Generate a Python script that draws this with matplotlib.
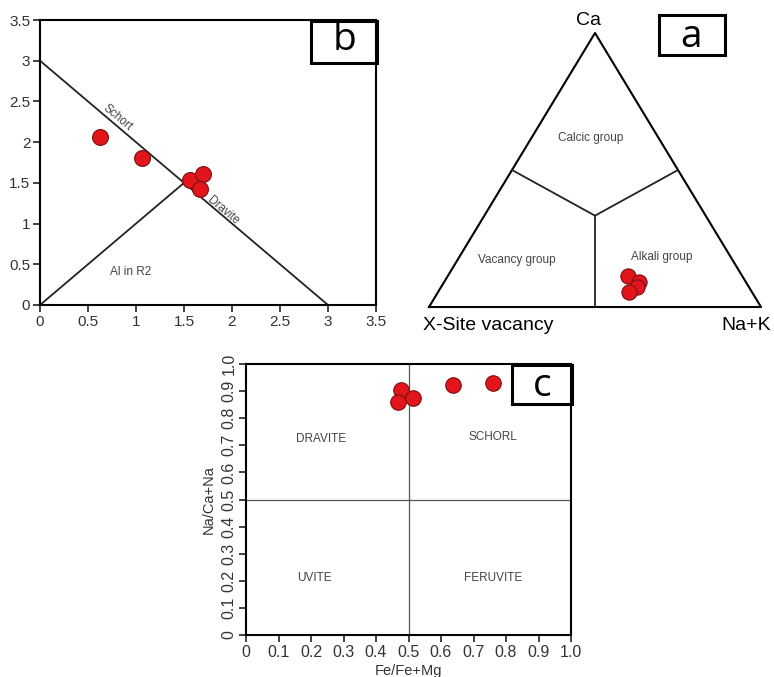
import numpy as np
import matplotlib
matplotlib.use('Agg')
import matplotlib.pyplot as plt
from matplotlib.patches import Rectangle

plt.rcParams['font.family'] = ['Liberation Sans', 'DejaVu Sans']

# panel b : Al vs (Fe,Mg) line
b_x = [0.63, 1.06, 1.56, 1.70, 1.67]
b_y = [2.06, 1.81, 1.54, 1.61, 1.43]
b_ticks = [0, 0.5, 1, 1.5, 2, 2.5, 3, 3.5]
b_ticklabels = ['0', '0.5', '1', '1.5', '2', '2.5', '3', '3.5']

# panel a : ternary X-site (Ca, vacancy, Na+K)
a_ca = [0.113, 0.092, 0.074, 0.054]
a_nak = [0.543, 0.586, 0.590, 0.576]

# panel c : Na/(Ca+Na) vs Fe/(Fe+Mg)
c_x = [0.477, 0.467, 0.513, 0.637, 0.759]
c_y = [0.904, 0.859, 0.876, 0.921, 0.931]
c_ticks = [0, 0.1, 0.2, 0.3, 0.4, 0.5, 0.6, 0.7, 0.8, 0.9, 1.0]
c_ticklabels = ['0', '0.1', '0.2', '0.3', '0.4', '0.5', '0.6', '0.7', '0.8', '0.9', '1.0']

W, H = 774, 677
RED = '#e3151c'
EDGE = '#7a1010'
TXT = '#444444'


def px(x0, y0, x1, y1):
    # pixel box -> figure rect
    return [x0 / W, 1 - y1 / H, (x1 - x0) / W, (y1 - y0) / H]


def label_box(x0, y0, x1, y1, letter, cx, cy, size):
    fig.add_artist(Rectangle((x0 / W, 1 - y1 / H), (x1 - x0) / W, (y1 - y0) / H,
                             transform=fig.transFigure, fill=False, lw=2.2, ec='black'))
    fig.text(cx / W, 1 - cy / H, letter, ha='center', va='center', fontsize=size,
             family=['Open Sans', 'DejaVu Sans'])


fig = plt.figure(figsize=(W / 100, H / 100), dpi=100)

# ---- panel b
axb = fig.add_axes(px(40, 20, 376, 305))
axb.plot([0, 3], [3, 0], color='#222222', lw=1.3)
axb.plot([0, 1.5], [0, 1.5], color='#222222', lw=1.3)
axb.scatter(b_x, b_y, s=130, color=RED, edgecolors=EDGE, linewidths=0.8, zorder=3)
axb.set_xlim(0, 3.5)
axb.set_ylim(0, 3.5)
axb.set_xticks(b_ticks)
axb.set_xticklabels(b_ticklabels)
axb.set_yticks(b_ticks)
axb.set_yticklabels(b_ticklabels)
axb.tick_params(labelsize=11, length=5, width=1.3, colors='#333333', pad=2)
for s in axb.spines.values():
    s.set_linewidth(1.5)
axb.text(0.81, 2.3, 'Schort', rotation=-40, fontsize=8.5, color=TXT, ha='center', va='center')
axb.text(1.91, 1.16, 'Dravite', rotation=-40, fontsize=8.5, color=TXT, ha='center', va='center')
axb.text(0.94, 0.41, 'Al in R2', fontsize=8.5, color=TXT, ha='center', va='center')
label_box(311, 21, 377, 63, 'b', 344, 40, 28)

# ---- panel a (ternary)
axa = fig.add_axes(px(429, 33, 761, 307))
axa.set_xlim(0, 1)
axa.set_ylim(0, 1)
axa.axis('off')


def tern(ca, nak):
    ca = np.asarray(ca, dtype=float)
    nak = np.asarray(nak, dtype=float)
    return nak + 0.5 * ca, ca


tx, ty = tern([0, 1, 0, 0], [0, 0, 1, 0])
axa.plot(tx, ty, color='black', lw=1.5, clip_on=False)
centre = tern(1 / 3, 1 / 3)
for ca, nak in [(0.5, 0.0), (0.5, 0.5), (0.0, 0.5)]:
    ex, ey = tern(ca, nak)
    axa.plot([centre[0], ex], [centre[1], ey], color='#222222', lw=1.3)
ax_, ay_ = tern(a_ca, a_nak)
axa.scatter(ax_, ay_, s=120, color=RED, edgecolors=EDGE, linewidths=0.8, zorder=3, clip_on=False)
axa.text(0.487, 0.615, 'Calcic group', fontsize=8.5, color=TXT, ha='center', va='center')
axa.text(0.266, 0.172, 'Vacancy group', fontsize=8.5, color=TXT, ha='center', va='center')
axa.text(0.700, 0.182, 'Alkali group', fontsize=8.5, color=TXT, ha='center', va='center')
axa.text(0.48, 1.045, 'Ca', fontsize=14, ha='center', va='center', clip_on=False)
axa.text(0.178, -0.066, 'X-Site vacancy', fontsize=14, ha='center', va='center', clip_on=False)
axa.text(0.954, -0.066, 'Na+K', fontsize=14, ha='center', va='center', clip_on=False)
label_box(659, 15, 725, 55, 'a', 691, 37, 28)

# ---- panel c
axc = fig.add_axes(px(246, 364, 571, 635))
axc.axvline(0.5, color='#555555', lw=0.9)
axc.axhline(0.5, color='#555555', lw=0.9)
axc.scatter(c_x, c_y, s=125, color=RED, edgecolors=EDGE, linewidths=0.8, zorder=3)
axc.set_xlim(0, 1)
axc.set_ylim(0, 1)
axc.set_xticks(c_ticks)
axc.set_xticklabels(c_ticklabels)
axc.set_yticks(c_ticks)
axc.set_yticklabels(c_ticklabels, rotation=90, va='center')
axc.tick_params(labelsize=11.5, length=5, width=1.3, colors='#333333', pad=2)
for s in axc.spines.values():
    s.set_linewidth(1.5)
axc.set_xlabel('Fe/Fe+Mg', fontsize=10.5, color='#333333', labelpad=3)
axc.set_ylabel('Na/Ca+Na', fontsize=10.5, color='#333333', labelpad=4)
axc.text(0.23, 0.725, 'DRAVITE', fontsize=8.5, color=TXT, ha='center', va='center')
axc.text(0.76, 0.730, 'SCHORL', fontsize=8.5, color=TXT, ha='center', va='center')
axc.text(0.21, 0.21, 'UVITE', fontsize=8.5, color=TXT, ha='center', va='center')
axc.text(0.76, 0.21, 'FERUVITE', fontsize=8.5, color=TXT, ha='center', va='center')
label_box(512, 365, 572, 404, 'c', 542, 386, 28)

fig.savefig('out.png', dpi=100)
